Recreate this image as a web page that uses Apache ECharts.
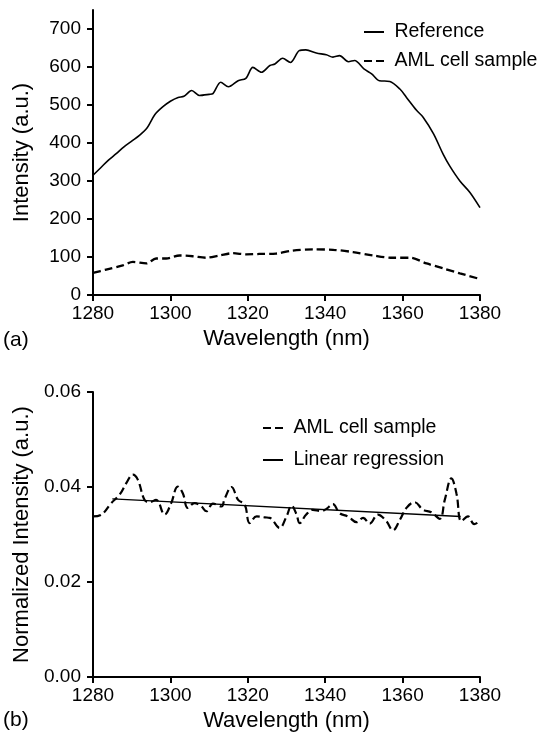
<!DOCTYPE html>
<html>
<head>
<meta charset="utf-8">
<script src="https://cdn.jsdelivr.net/npm/echarts@6/dist/echarts.min.js"></script>
<style>
html,body{margin:0;padding:0;background:#fff;}
#chart{width:539px;height:739px;}
</style>
</head>
<body>
<div id="chart"></div>
<script>
// ---- Panel (a) data ----
const refWl = [1280,1282,1284,1286,1288,1290,1292,1294,1296,1298,1300,1302,1303.5,1305.5,1307.5,1310,1311,1313,1315,1317.5,1319.5,1321.3,1323.5,1325.7,1327,1329,1331,1333.3,1335,1337.7,1340.3,1342,1343.7,1346,1347.6,1350,1352,1354,1356.7,1359.3,1361,1363.6,1365.3,1368,1370.5,1372.2,1374.8,1377.4,1380];
const refVal = [315,335,355,372,390,405,420,440,475,495,510,520,523,538,525,528,530,560,548,564,570,599,586,604,608,623,612,643,645,637,632,626,630,614,617,595,582,564,562,542,520,486,468,424,370,339,300,270,230];

const amlWl = [1280,1283.4,1287.7,1290.3,1293.8,1296.3,1298.9,1302.4,1305.8,1309.2,1312.7,1316.1,1319.6,1323,1327.3,1331.6,1336.8,1342,1347.2,1352.4,1357.5,1361.9,1366.2,1370.5,1374.8,1380];
const amlVal = [58,67,78,87,83,96,96,104,102,98,104,110,107,108,109,117,120,119,113,104,98,98,83,70,57,42];

// ---- Panel (b) data ----
const normWl = [1280,1282.2,1284.7,1286.9,1288.6,1290.3,1291.6,1293.3,1294.6,1296.3,1298.5,1300.2,1301.9,1303.2,1304.5,1306.2,1308,1309.3,1311,1313.2,1314,1315.8,1317.5,1319.2,1320.5,1322.3,1324.4,1325.7,1328.2,1330,1331.3,1332.6,1333.4,1335.1,1336.8,1339,1340.3,1342,1343.7,1345.9,1348.1,1349.8,1351.5,1353.6,1355.8,1357.5,1359.3,1361,1363.1,1365.3,1367.4,1369.6,1370.9,1372.6,1373.9,1375.2,1376.9,1378.5,1380];
const normVal = [0.0338,0.0342,0.0366,0.0384,0.0408,0.0426,0.0415,0.0373,0.0368,0.0373,0.0342,0.0366,0.0401,0.0387,0.0356,0.0366,0.0359,0.0349,0.0365,0.0359,0.0375,0.0400,0.0373,0.0363,0.0324,0.0338,0.0336,0.0335,0.0314,0.0338,0.0361,0.0342,0.0324,0.0342,0.0352,0.0349,0.0354,0.0364,0.0345,0.0338,0.0326,0.0335,0.0323,0.0342,0.0328,0.0309,0.0331,0.0356,0.0368,0.0352,0.0347,0.0333,0.0373,0.0418,0.0387,0.0328,0.0338,0.0322,0.0328];

const regWl = [1285, 1375];
const regVal = [0.0375, 0.0338];

const yTicksA = [0,100,200,300,400,500,600,700];

function zip(a,b){ return a.map((v,i)=>[v,b[i]]); }

const FONT = 'Liberation Sans';
const axisLine = {show:true, onZero:false, lineStyle:{color:'#000', width:2}};
const axisTick = {show:true, inside:false, length:6, lineStyle:{color:'#000', width:2}};
const lblStyle = {color:'#000', fontFamily:FONT, fontSize:19};
const nameStyle = {color:'#000', fontFamily:FONT, fontSize:22};
const legText = {color:'#000', fontFamily:FONT, fontSize:19.5, lineHeight:20};

const chart = echarts.init(document.getElementById('chart'), null, {renderer:'canvas'});
chart.setOption({
  backgroundColor:'#fff',
  animation:false,
  textStyle:{fontFamily:FONT},
  grid:[
    {left:93, right:59, top:10, bottom:444, containLabel:false},
    {left:93, right:59, top:392, bottom:62, containLabel:false}
  ],
  xAxis:[
    {gridIndex:0, type:'value', min:1280, max:1380, interval:20,
     axisLine, axisTick, splitLine:{show:false},
     axisLabel:Object.assign({margin:9, formatter:v=>String(v)}, lblStyle),
     name:'Wavelength (nm)', nameLocation:'middle', nameGap:33, nameTextStyle:nameStyle},
    {gridIndex:1, type:'value', min:1280, max:1380, interval:20,
     axisLine, axisTick, splitLine:{show:false},
     axisLabel:Object.assign({margin:9, formatter:v=>String(v)}, lblStyle),
     name:'Wavelength (nm)', nameLocation:'middle', nameGap:33, nameTextStyle:nameStyle}
  ],
  yAxis:[
    {gridIndex:0, type:'value', min:0, max:750,
     axisLine, splitLine:{show:false},
     axisTick:Object.assign({customValues:yTicksA}, axisTick),
     axisLabel:Object.assign({margin:12, customValues:yTicksA}, lblStyle),
     name:'Intensity (a.u.)', nameLocation:'middle', nameGap:60, nameTextStyle:nameStyle},
    {gridIndex:1, type:'value', min:0, max:0.06, interval:0.02,
     axisLine, splitLine:{show:false}, axisTick,
     axisLabel:Object.assign({margin:12, formatter:v=>v.toFixed(2)}, lblStyle),
     name:'Normalized Intensity (a.u.)', nameLocation:'middle', nameGap:60, nameTextStyle:nameStyle}
  ],
  legend:[
    {data:['Reference','AML cell sample'], orient:'vertical', left:363, top:22, padding:0,
     itemWidth:20, itemHeight:10, itemGap:9,
     itemStyle:{opacity:0, borderWidth:0},
     formatter:' {name}', textStyle:legText},
    {data:['AML cell sample','Linear regression'], orient:'vertical', left:262, top:418, padding:0,
     itemWidth:20, itemHeight:10, itemGap:12,
     itemStyle:{opacity:0, borderWidth:0},
     formatter:' {name}', textStyle:legText}
  ],
  graphic:[
    {type:'text', left:3, top:330, style:{text:'(a)', fill:'#000', font:'21px "Liberation Sans"'}},
    {type:'text', left:3, top:710, style:{text:'(b)', fill:'#000', font:'21px "Liberation Sans"'}}
  ],
  series:[
    {name:'Reference', type:'line', xAxisIndex:0, yAxisIndex:0, data:zip(refWl,refVal),
     smooth:0.3, symbol:'none', lineStyle:{color:'#000', width:1.6, type:'solid'}, itemStyle:{color:'#000'}},
    {name:'AML cell sample', type:'line', xAxisIndex:0, yAxisIndex:0, data:zip(amlWl,amlVal),
     smooth:0.3, symbol:'none', lineStyle:{color:'#000', width:2.3, type:[8,4]}, itemStyle:{color:'#000'}},
    {name:'AML cell sample', type:'line', xAxisIndex:1, yAxisIndex:1, data:zip(normWl,normVal),
     smooth:0.4, symbol:'none', lineStyle:{color:'#000', width:2.2, type:[8,4]}, itemStyle:{color:'#000'}},
    {name:'Linear regression', type:'line', xAxisIndex:1, yAxisIndex:1, data:zip(regWl,regVal),
     symbol:'none', lineStyle:{color:'#000', width:1.5, type:'solid'}, itemStyle:{color:'#000'}}
  ]
});
</script>
</body>
</html>
